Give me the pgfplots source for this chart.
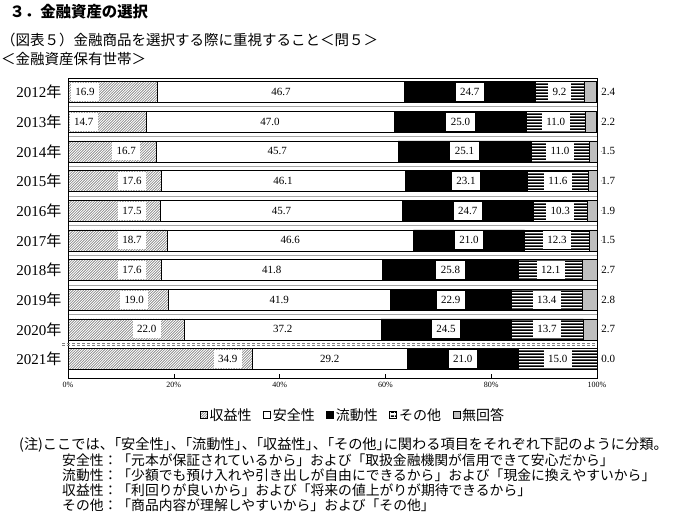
\documentclass[border=0pt]{standalone}
\usepackage{fontspec}
\setmainfont{Liberation Serif}
\newfontfamily\cjk{Noto Sans CJK JP}
\newfontfamily\cjkp[RawFeature=+palt]{Noto Sans CJK JP}
\usepackage{pgfplots}
\usepackage{pgfplotstable}
\pgfplotsset{compat=1.18}
\usetikzlibrary{patterns}

% hatching for the first series, stripes for the fourth
\pgfdeclarepatternformonly{mydiag}{\pgfqpoint{-1pt}{-1pt}}{\pgfqpoint{3.6pt}{3.6pt}}{\pgfqpoint{2.6pt}{2.6pt}}{%
  \pgfsetlinewidth{0.6pt}%
  \pgfpathmoveto{\pgfqpoint{0pt}{0pt}}%
  \pgfpathlineto{\pgfqpoint{2.7pt}{2.7pt}}%
  \pgfusepath{stroke}}
\pgfdeclarepatternformonly{hstripe}{\pgfqpoint{0pt}{0pt}}{\pgfqpoint{3.4pt}{3.4pt}}{\pgfqpoint{3.4pt}{3.4pt}}{%
  \pgfpathrectangle{\pgfqpoint{-0.1pt}{0pt}}{\pgfqpoint{3.6pt}{1.8pt}}%
  \pgfusepath{fill}}

\definecolor{noans}{RGB}{190,190,190}
\newcommand\pp[1]{{\cjkp #1}}

\pgfplotstableread{
y a b c d e
0 16.9 46.7 24.7 9.2 2.4
1 14.7 47.0 25.0 11.0 2.2
2 16.7 45.7 25.1 11.0 1.5
3 17.6 46.1 23.1 11.6 1.7
4 17.5 45.7 24.7 10.3 1.9
5 18.7 46.6 21.0 12.3 1.5
6 17.6 41.8 25.8 12.1 2.7
7 19.0 41.9 22.9 13.4 2.8
8 22.0 37.2 24.5 13.7 2.7
9 34.9 29.2 21.0 15.0 0.0
}\shares

% label positions inside the bars
\pgfplotstableread{
x y l
3.2 0 16.9
40.25 0 46.7
75.95 0 24.7
92.9 0 9.2
3.0 1 14.7
38.2 1 47.0
74.2 1 25.0
92.2 1 11.0
11.0 2 16.7
39.55 2 45.7
74.95 2 25.1
93.0 2 11.0
12.1 3 17.6
40.65 3 46.1
75.25 3 23.1
92.6 3 11.6
12.1 4 17.5
40.35 4 45.7
75.55 4 24.7
93.05 4 10.3
12.1 5 18.7
42.0 5 46.6
75.8 5 21.0
92.45 5 12.3
12.1 6 17.6
38.5 6 41.8
72.3 6 25.8
91.25 6 12.1
12.5 7 19.0
39.95 7 41.9
72.35 7 22.9
90.5 7 13.4
14.9 8 22.0
40.6 8 37.2
71.45 8 24.5
90.55 8 13.7
30.2 9 34.9
49.5 9 29.2
74.6 9 21.0
92.6 9 15.0
}\labels

\pgfplotstableread{
x y l
100.8 0 2.4
100.8 1 2.2
100.8 2 1.5
100.8 3 1.7
100.8 4 1.9
100.8 5 1.5
100.8 6 2.7
100.8 7 2.8
100.8 8 2.7
100.8 9 0.0
}\outer

\pgfplotsset{
  frame/.style={
    at={(68pt,144pt)}, anchor=south west,
    scale only axis, width=529pt, height=300pt,
    xmin=0, xmax=100, ymin=-0.47, ymax=9.64, y dir=reverse,
  },
}

\begin{document}
\begin{tikzpicture}[x=1pt,y=1pt]
\path[use as bounding box] (0,0) rectangle (674,522);

\node[anchor=west, font=\cjk\bfseries\fontsize{15.4}{15.4}\selectfont] at (6,510) {３．金融資産の選択};
\node[anchor=west, font=\cjk\fontsize{14.5}{14.5}\selectfont, inner sep=0pt] at (1,482) {（図表５）金融商品を選択する際に重視すること＜問５＞};
\node[anchor=west, font=\cjk\fontsize{14.5}{14.5}\selectfont, inner sep=0pt] at (1,463) {＜金融資産保有世帯＞};

\begin{axis}[frame,
  xbar stacked, bar width=21pt, clip=false,
  axis line style={black, line width=0.8pt},
  tick align=inside,
  xtick={0,20,...,100}, xtick pos=bottom,
  xticklabels={0\%,20\%,40\%,60\%,80\%,100\%},
  xticklabel style={font=\fontsize{8}{8}\selectfont, yshift=-1pt},
  xtick style={black, line width=0.6pt}, major tick length=4pt,
  ytick={0,...,9}, ytick pos=left,
  yticklabels={2012{\cjk 年},2013{\cjk 年},2014{\cjk 年},2015{\cjk 年},2016{\cjk 年},2017{\cjk 年},2018{\cjk 年},2019{\cjk 年},2020{\cjk 年},2021{\cjk 年}},
  yticklabel style={font=\fontsize{15}{15}\selectfont, xshift=-3pt},
  ytick style={draw=none},
  minor ytick={0.5,1.5,...,7.5},
  minor y tick style={black, line width=0.6pt}, minor tick length=4pt,
  ymajorgrids=false, yminorgrids=true,
  minor grid style={gray!70, line width=0.6pt},
  legend image code/.code={\draw[#1, draw=black, line width=0.6pt] (0pt,-3.5pt) rectangle (7pt,3.5pt);},
  legend columns=-1,
  legend style={at={(0.539,-0.123)}, anchor=center, draw=none,
    font=\cjk\fontsize{14}{14}\selectfont, inner sep=0pt,
    nodes={inner sep=2pt},
    /tikz/every even column/.append style={column sep=9.5pt}},
]
\addplot[draw=black, line width=0.5pt, pattern=mydiag, pattern color=gray] table[x=a, y=y] {\shares};
\addplot[draw=black, line width=0.5pt, fill=white] table[x=b, y=y] {\shares};
\addplot[draw=black, line width=0.5pt, fill=black] table[x=c, y=y] {\shares};
\addplot[draw=black, line width=0.5pt, pattern=hstripe, pattern color=black] table[x=d, y=y] {\shares};
\addplot[draw=black, line width=0.5pt, fill=noans] table[x=e, y=y] {\shares};
\legend{収益性,安全性,流動性,その他,無回答}
\draw[gray, densely dashed, line width=0.7pt] (axis cs:-1.1,8.46) -- (axis cs:100,8.46);
\draw[gray, densely dashed, line width=0.7pt] (axis cs:-1.1,8.54) -- (axis cs:100,8.54);
\end{axis}

\begin{axis}[frame, hide axis, clip=false]
\addplot[only marks, mark=*, mark size=0.01pt, mark options={draw=none, fill=none},
  nodes near coords, point meta=explicit symbolic, nodes near coords align={center},
  every node near coord/.append style={anchor=center, fill=white, inner xsep=4.5pt, inner ysep=4.5pt,
    text height=8pt, text depth=1pt, font=\fontsize{11}{11}\selectfont}]
  table[x=x, y=y, meta=l] {\labels};
\addplot[only marks, mark=*, mark size=0.01pt, mark options={draw=none, fill=none},
  nodes near coords, point meta=explicit symbolic, nodes near coords align={center},
  every node near coord/.append style={anchor=west, inner sep=0pt, font=\fontsize{11}{11}\selectfont}]
  table[x=x, y=y, meta=l] {\outer};
\end{axis}

\node[anchor=west, font=\cjk\fontsize{14.2}{14.2}\selectfont, inner sep=0pt] at (19,77) {(注)ここでは、\pp{「}安全性\pp{」}、\pp{「}流動性\pp{」}、\pp{「}収益性\pp{」}、\pp{「}その他\pp{」}に関わる項目をそれぞれ下記のように分類。};
\node[anchor=west, font=\cjk\fontsize{13.8}{13.8}\selectfont, inner sep=0pt] at (62,62) {安全性：「元本が保証されているから」および「取扱金融機関が信用できて安心だから」};
\node[anchor=west, font=\cjk\fontsize{13.8}{13.8}\selectfont, inner sep=0pt] at (62,47) {流動性：「少額でも預け入れや引き出しが自由にできるから」および「現金に換えやすいから」};
\node[anchor=west, font=\cjk\fontsize{13.8}{13.8}\selectfont, inner sep=0pt] at (62,32) {収益性：「利回りが良いから」および「将来の値上がりが期待できるから」};
\node[anchor=west, font=\cjk\fontsize{13.8}{13.8}\selectfont, inner sep=0pt] at (62,17) {その他：「商品内容が理解しやすいから」および「その他」};
\end{tikzpicture}
\end{document}
